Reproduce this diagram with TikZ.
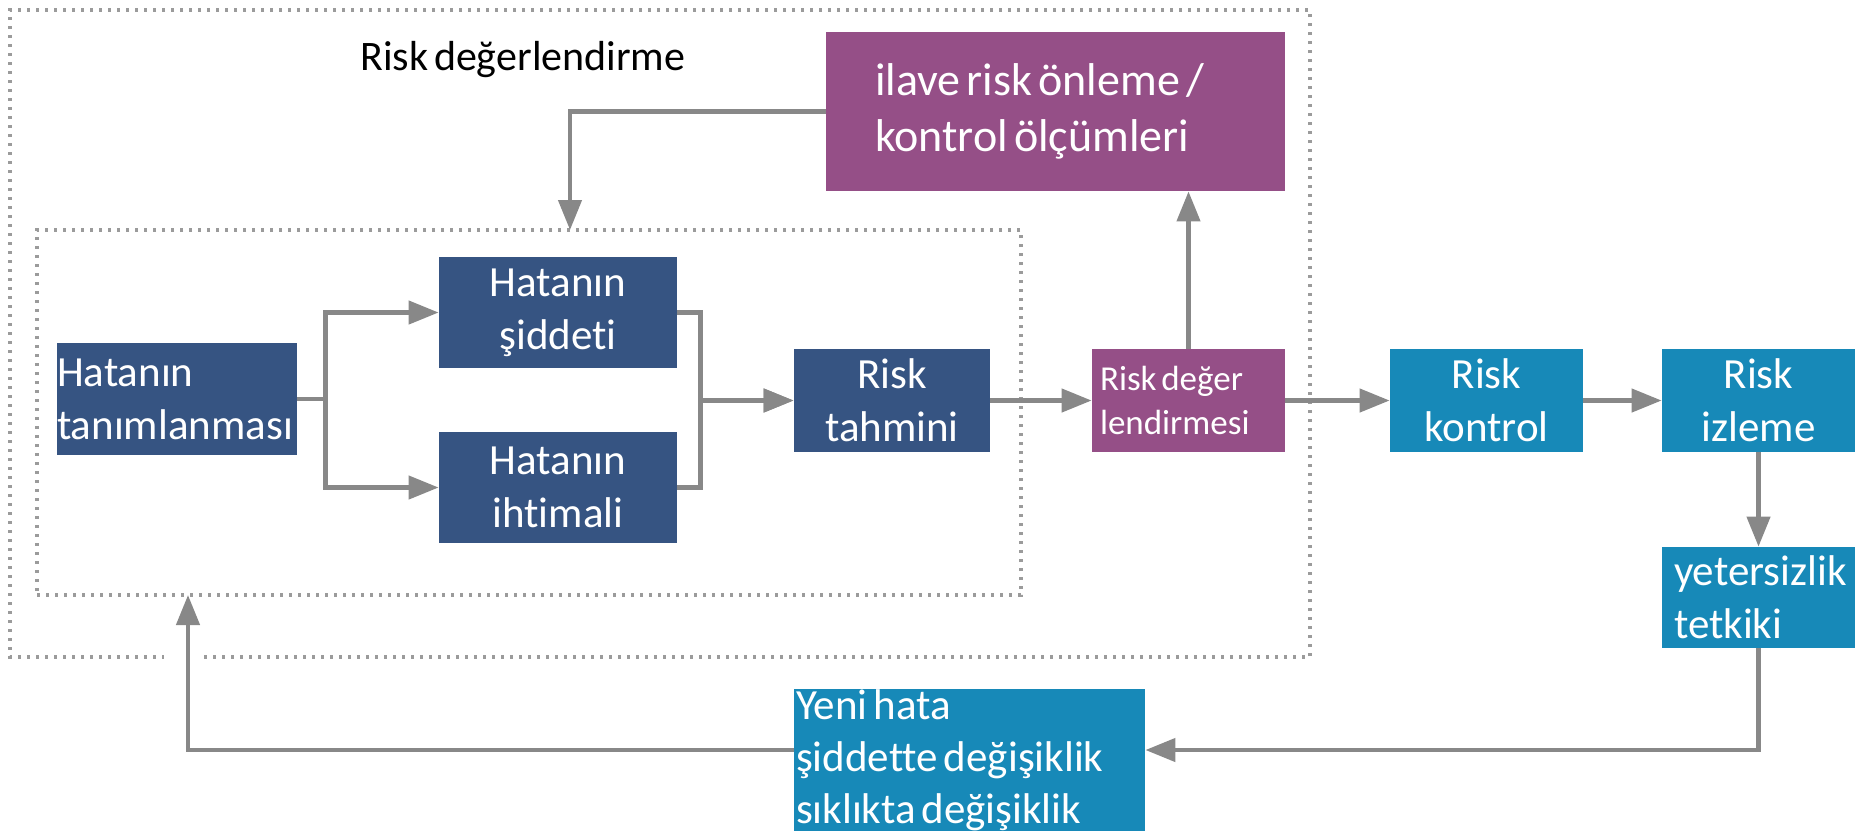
\documentclass[tikz,border=0pt]{standalone}
\usepackage{fontspec}
\setmainfont{Carlito}[Ligatures={TeX,NoCommon},WordSpace=0.6]
\usetikzlibrary{positioning,arrows.meta}
\definecolor{HataNavy}{RGB}{54,84,130}
\definecolor{RiskPurple}{RGB}{149,79,135}
\definecolor{RiskTeal}{RGB}{23,137,184}
\definecolor{ArrowGray}{RGB}{136,136,136}
\definecolor{DotGray}{RGB}{155,155,155}
\hyphenpenalty=10000

\begin{document}
\begin{tikzpicture}[x=0.5pt,y=-0.5pt,
    box/.style={inner sep=0pt,text=white,font=\fontsize{21.5}{26.5}\selectfont,align=center},
    navybox/.style={box,fill=HataNavy},
    purplebox/.style={box,fill=RiskPurple},
    tealbox/.style={box,fill=RiskTeal},
    dotline/.style={DotGray,line width=2pt,dash pattern=on 1.5pt off 3pt},
    arrow/.style={ArrowGray,line width=2.2pt,-{Triangle[length=15pt,width=11.5pt]}}]
  \path[fill=white,use as bounding box] (0,0) rectangle (1866,832);
  % outer frame, open where the feedback line goes up
  \draw[dotline] (204,657) -- (1310,657) -- (1310,10) -- (10,10) -- (10,657) -- (164,657);
  \node[dotline,draw,inner sep=0pt,minimum width=492pt,minimum height=182.5pt] (inner) at (529,412.5) {};
  \node[anchor=west,inner sep=0pt,font=\fontsize{21}{25}\selectfont] (baslik) at (360,60) {Risk değerlendirme};

  \node[purplebox,minimum width=229.5pt,minimum height=79.5pt,text width=180.5pt,align=flush left,
        font=\fontsize{23}{28}\selectfont] (ilave) at (1055.5,111.5) {ilave risk önleme /\\kontrol ölçümleri};
  \node[navybox,minimum width=120pt,minimum height=56pt,text width=120pt,align=flush left] (tanim) at (177,399) {Hatanın\\tanımlanması};
  \node[navybox,minimum width=119pt,minimum height=55.5pt] (siddet) at (558,312.5) {Hatanın\\şiddeti};
  \node[navybox,minimum width=119pt,minimum height=55.5pt] (ihtimal) at (558,487.5) {Hatanın\\ihtimali};
  \node[navybox,minimum width=98pt,minimum height=51.5pt] (tahmin) at (892,400.5) {Risk\\tahmini};
  \node[purplebox,minimum width=96.5pt,minimum height=51.5pt,text width=88.5pt,align=flush left,
        font=\fontsize{17.5}{22}\selectfont] (deger) at (1188.5,400.5) {Risk değer\\lendirmesi};
  \node[tealbox,minimum width=96.5pt,minimum height=51.5pt] (kontrol) at (1486.5,400.5) {Risk\\kontrol};
  \node[tealbox,minimum width=96.5pt,minimum height=51.5pt] (izleme) at (1758.5,400.5) {Risk\\izleme};
  \node[tealbox,minimum width=96.5pt,minimum height=50.5pt,text width=84.5pt,align=flush left] (yeter) at (1758.5,597.5) {yetersizlik\\tetkiki};
  \node[tealbox,minimum width=175.5pt,minimum height=70pt,text width=173.5pt,align=flush left,
        font=\fontsize{21.5}{26}\selectfont] (yeni) at (969.5,760) {Yeni hata\\şiddette değişiklik\\sıklıkta değişiklik};

  \coordinate (ustGiris) at (570,230);
  \coordinate (altGiris) at (188,595);
  \draw[arrow] (ilave.west) -| (ustGiris);
  \draw[arrow] (deger.north) -- (deger.north |- ilave.south);
  \draw[arrow] (tanim.east) -- ++(28,0) |- (siddet.west);
  \draw[arrow] (tanim.east) -- ++(28,0) |- (ihtimal.west);
  \draw[arrow] (siddet.east) -- ++(23,0) |- (tahmin.west);
  \draw[arrow] (ihtimal.east) -- ++(23,0) |- (tahmin.west);
  \draw[arrow] (tahmin.east) -- (deger.west);
  \draw[arrow] (deger.east) -- (kontrol.west);
  \draw[arrow] (kontrol.east) -- (izleme.west);
  \draw[arrow] (izleme.south) -- (yeter.north);
  \draw[arrow] (yeter.south) |- ([yshift=5pt]yeni.east);
  \draw[arrow] ([yshift=5pt]yeni.west) -| (altGiris);
\end{tikzpicture}
\end{document}
